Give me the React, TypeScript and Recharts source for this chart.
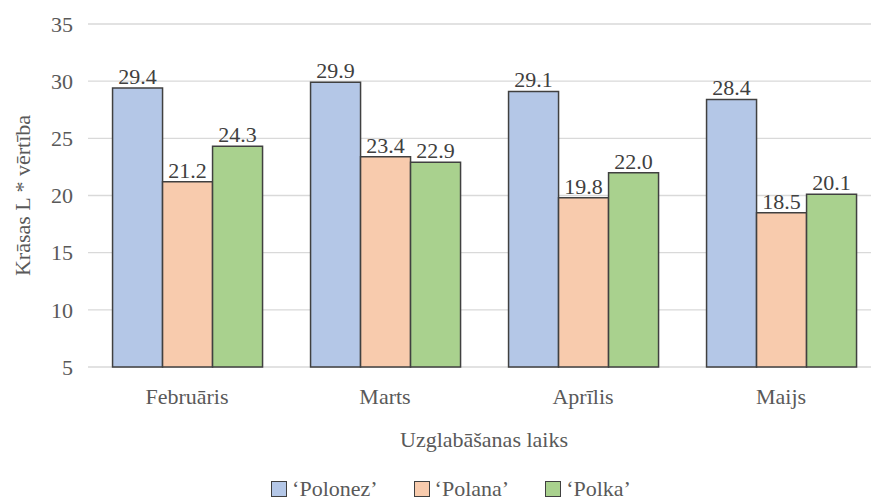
import { BarChart, Bar, XAxis, YAxis, CartesianGrid, LabelList, Legend, Label } from 'recharts';

const months = ['Februāris', 'Marts', 'Aprīlis', 'Maijs'];
const polonez = [29.4, 29.9, 29.1, 28.4];
const polana = [21.2, 23.4, 19.8, 18.5];
const polka = [24.3, 22.9, 22.0, 20.1];
const yTicks = [5, 10, 15, 20, 25, 30, 35];

const series = [
  { key: 'polonez', name: '‘Polonez’', fill: '#B4C7E7' },
  { key: 'polana', name: '‘Polana’', fill: '#F8CBAD' },
  { key: 'polka', name: '‘Polka’', fill: '#A9D18E' },
];

const data = months.map((month, i) => ({
  month,
  polonez: polonez[i],
  polana: polana[i],
  polka: polka[i],
}));

const FONT = "'Liberation Serif', 'Times New Roman', Tinos, 'Noto Serif', 'DejaVu Serif', Times, serif";
const FONT_SIZE = 22;
const TEXT = '#595959';
const EDGE = '#404040';

function LegendRow() {
  return (
    <div
      style={{
        height: 30,
        display: 'flex',
        justifyContent: 'center',
        alignItems: 'center',
        gap: 36,
        paddingLeft: 22,
        fontFamily: FONT,
        fontSize: FONT_SIZE,
        color: TEXT,
      }}
    >
      {series.map((s) => (
        <div key={s.key} style={{ display: 'flex', alignItems: 'center', gap: 5 }}>
          <span
            style={{
              display: 'inline-block',
              width: 14,
              height: 14,
              background: s.fill,
              border: `1.5px solid ${EDGE}`,
            }}
          />
          <span>{s.name}</span>
        </div>
      ))}
    </div>
  );
}

export default function App() {
  return (
    <div
      style={{
        position: 'fixed',
        left: 0,
        top: 0,
        width: 871,
        height: 504,
        overflow: 'hidden',
        background: '#fff',
        fontFamily: FONT,
      }}
    >
      <BarChart
        width={880}
        height={504}
        data={data}
        margin={{ top: 24, right: 0, left: 0, bottom: 0 }}
        barCategoryGap="12.4%"
        barGap={0}
        style={{ fontFamily: FONT }}
      >
        <CartesianGrid vertical={false} stroke="#D9D9D9" strokeWidth={1.3} />
        <XAxis
          dataKey="month"
          height={107}
          axisLine={false}
          tickLine={false}
          tickSize={0}
          tickMargin={21}
          tick={{ fill: TEXT, fontSize: FONT_SIZE, fontFamily: FONT }}
        >
          <Label
            value="Uzglabāšanas laiks"
            position="insideBottom"
            offset={27}
            style={{ fill: TEXT, fontSize: FONT_SIZE, fontFamily: FONT }}
          />
        </XAxis>
        <YAxis
          width={88}
          domain={[5, 35]}
          ticks={yTicks}
          interval={0}
          axisLine={false}
          tickLine={false}
          tickSize={0}
          tickMargin={15}
          tick={{ fill: TEXT, fontSize: FONT_SIZE, fontFamily: FONT }}
        >
          <Label
            content={({ viewBox }: any) => {
              const cx = viewBox.x + 22;
              const cy = viewBox.y + viewBox.height / 2;
              return (
                <text
                  x={cx}
                  y={cy}
                  transform={`rotate(-90 ${cx} ${cy})`}
                  textAnchor="middle"
                  dominantBaseline="central"
                  fill={TEXT}
                  fontSize={FONT_SIZE}
                  style={{ fontFamily: FONT }}
                >
                  Krāsas L * vērtība
                </text>
              );
            }}
          />
        </YAxis>
        <Legend verticalAlign="bottom" content={() => <LegendRow />} />
        {series.map((s) => (
          <Bar
            key={s.key}
            dataKey={s.key}
            name={s.name}
            fill={s.fill}
            stroke={EDGE}
            strokeWidth={1.5}
            isAnimationActive={false}
          >
            <LabelList
              dataKey={s.key}
              position="top"
              offset={4}
              formatter={(v: any) => Number(v).toFixed(1)}
              style={{ fill: EDGE, fontSize: FONT_SIZE, fontFamily: FONT }}
            />
          </Bar>
        ))}
      </BarChart>
    </div>
  );
}
